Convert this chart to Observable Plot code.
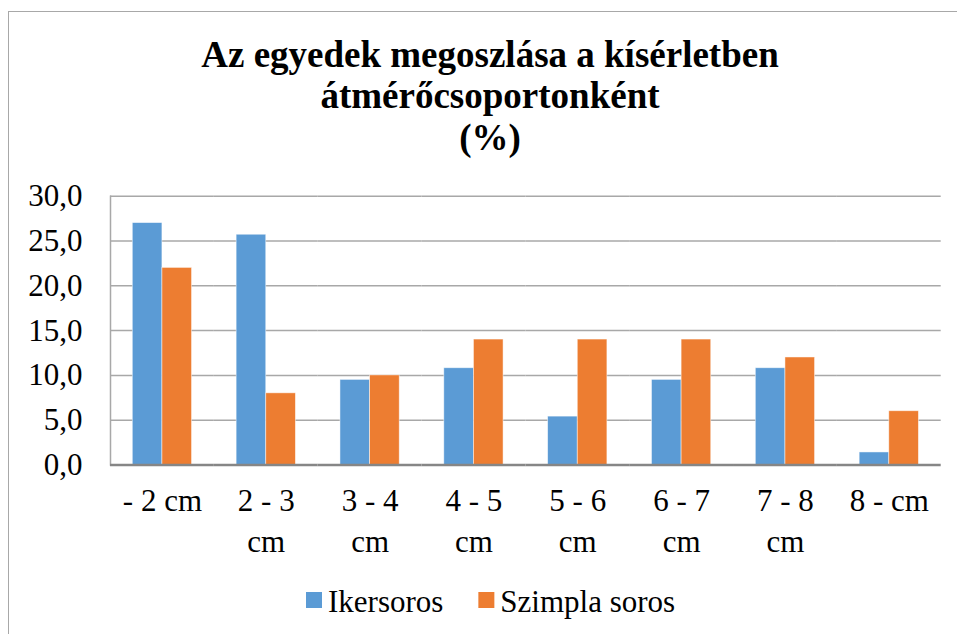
<!DOCTYPE html>
<html>
<head>
<meta charset="utf-8">
<script src="https://cdn.jsdelivr.net/npm/d3@7"></script>
<script src="https://cdn.jsdelivr.net/npm/@observablehq/plot@0.6"></script>
<style>
  html, body { margin: 0; padding: 0; background: #fff; }
  body { width: 957px; height: 634px; position: relative; overflow: hidden; }
  #border { position: absolute; left: 8px; top: 11px; width: 1000px; height: 700px; border-left: 1.5px solid #a8a8a8; border-top: 1.5px solid #a8a8a8; }
  #title { position: absolute; left: 0; top: 0; }
  #chart { position: absolute; left: 0; top: 150px; }
  #legend { position: absolute; left: 0; top: 570px; }
</style>
</head>
<body>
<div id="border"></div>
<div id="title"></div>
<div id="chart"></div>
<div id="legend"></div>
<script>
const titleLines = ["Az egyedek megoszlása a kísérletben", "átmérőcsoportonként", "(%)"];
const categories = ["- 2 cm", "2 - 3 cm", "3 - 4 cm", "4 - 5 cm", "5 - 6 cm", "6 - 7 cm", "7 - 8 cm", "8 - cm"];
const seriesNames = ["Ikersoros", "Szimpla soros"];
const ikersoros = [27.0, 25.7, 9.5, 10.8, 5.4, 9.5, 10.8, 1.4];
const szimplaSoros = [22.0, 8.0, 10.0, 14.0, 14.0, 14.0, 12.0, 6.0];
const yTicks = [0, 5, 10, 15, 20, 25, 30];
const colors = ["#5B9BD5", "#ED7D31"];

const FONT = "Liberation Serif, Times New Roman, serif";

// Title (SVG text)
const tsvg = d3.select("#title").append("svg").attr("width", 957).attr("height", 160)
  .style("font-family", FONT);
tsvg.selectAll("text").data(titleLines).join("text")
  .attr("x", 490).attr("y", (d, i) => 66.7 + i * 41.7)
  .attr("text-anchor", "middle").attr("font-weight", "bold").attr("font-size", 37)
  .attr("fill", "#000").text(d => d);

const data = [];
categories.forEach((c, i) => {
  data.push({cat: c, series: seriesNames[0], value: ikersoros[i]});
  data.push({cat: c, series: seriesNames[1], value: szimplaSoros[i]});
});

const fmtY = d => d.toFixed(1).replace(".", ",");
const fmtX = d => d.length > 6 ? d.replace(/ (cm)$/, "\n$1") : d;

const chart = Plot.plot({
  width: 957,
  height: 420,
  marginLeft: 110,
  marginRight: 16.3,
  marginTop: 45.7,
  marginBottom: 105.5,
  style: {fontFamily: FONT, fontSize: "31px", color: "#000", background: "transparent", overflow: "visible"},
  fx: {domain: categories, padding: 0, round: false, label: null},
  x: {domain: seriesNames, paddingInner: 0, paddingOuter: 0.752, round: false, axis: null},
  y: {domain: [0, 30], label: null},
  color: {domain: seriesNames, range: colors},
  marks: [
    Plot.ruleY(yTicks.filter(d => d > 0), {stroke: "#a8a8a8", strokeWidth: 1.5, strokeOpacity: 1}),
    Plot.barY(data, {fx: "cat", x: "series", y: "value", fill: "series", stroke: "#fff", strokeWidth: 0.8, strokeOpacity: 0.6}),
    Plot.frame({anchor: "left", facet: "super", stroke: "#a8a8a8", strokeWidth: 1.5, strokeOpacity: 1}),
    Plot.ruleY([0], {stroke: "#868686", strokeWidth: 2.5, strokeOpacity: 1}),
    Plot.axisY({ticks: yTicks, tickSize: 0, tickPadding: 28, tickFormat: fmtY, fontSize: 31, label: null}),
    Plot.axisFx({anchor: "bottom", tickSize: 0, tickPadding: 17, tickFormat: fmtX, fontSize: 31, lineHeight: 1.32, label: null})
  ]
});
document.getElementById("chart").appendChild(chart);

// Legend (SVG)
const lsvg = d3.select("#legend").append("svg").attr("width", 957).attr("height", 60)
  .style("font-family", FONT);
let lx = 306;
seriesNames.forEach((s, i) => {
  lsvg.append("rect").attr("x", lx).attr("y", 22).attr("width", 16).attr("height", 16).attr("fill", colors[i]);
  const t = lsvg.append("text").attr("x", lx + 22).attr("y", 41.7).attr("font-size", 31).attr("fill", "#000").text(s);
  lx += 22 + t.node().getComputedTextLength() + 35;
});
</script>
</body>
</html>
